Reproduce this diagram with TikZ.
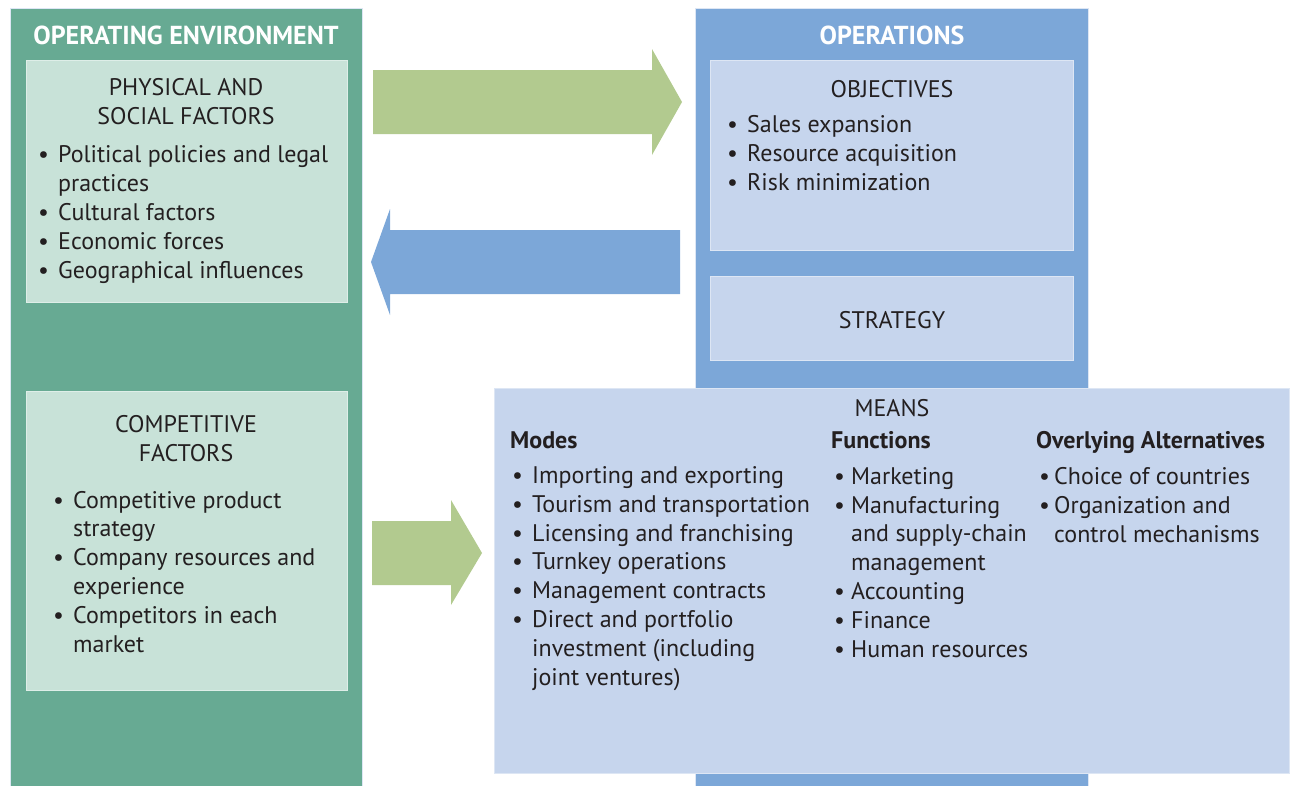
\documentclass[tikz,border=0pt]{standalone}
\usepackage{fontspec}
\setmainfont{PT Sans}
\definecolor{envgreen}{RGB}{103,170,147}
\definecolor{palegreen}{RGB}{200,226,216}
\definecolor{arrowgreen}{RGB}{178,202,143}
\definecolor{opsblue}{RGB}{124,167,216}
\definecolor{paleblue}{RGB}{198,213,237}
\definecolor{ink}{RGB}{35,31,32}
\newcommand{\bl}{\makebox[20pt][l]{\textbullet}}
\newcommand{\cn}{\hspace*{20pt}}
\begin{document}
\begin{tikzpicture}[x=1pt, y=-1pt,
    every node/.style={font=\fontsize{24}{28.8}\selectfont, text=ink, inner sep=0pt},
    column/.style={anchor=north west, draw=paleblue!60, line width=0.8pt},
    inbox/.style={anchor=north west, draw=white!40!#1, line width=0.8pt, fill=#1},
    title/.style={anchor=base, text=white, font=\fontsize{26}{28.8}\selectfont\bfseries},
    head/.style={anchor=base, align=center},
    list/.style={anchor=base west, align=left},
    sub/.style={anchor=base west, font=\fontsize{24}{28.8}\selectfont\bfseries}]
  \useasboundingbox (0,0) rectangle (1292,785);

  \node[column, fill=envgreen, minimum width=352, minimum height=790] (env) at (10,8) {};
  \node[column, fill=opsblue, minimum width=393, minimum height=790] (ops) at (695,8) {};

  \node[inbox=palegreen, minimum width=321, minimum height=242] (phys) at (26,60) {};
  \node[inbox=palegreen, minimum width=321, minimum height=299] (comp) at (26,391) {};
  \node[inbox=paleblue, minimum width=363, minimum height=190] (obj) at (710,60) {};
  \node[inbox=paleblue, minimum width=363, minimum height=84] (strat) at (710,276) {};
  \node[inbox=paleblue, minimum width=795, minimum height=385] (means) at (494,388) {};

  \node[title] (envtitle) at (186,44) {OPERATING ENVIRONMENT};
  \node[title] (opstitle) at (892,44) {OPERATIONS};

  % multi-line nodes sit on the baseline of their last line
  \node[head] (physhead) at (186,124) {PHYSICAL AND\\SOCIAL FACTORS};
  \node[list] (physlist) at (38,278) {\bl Political policies and legal\\ \cn practices\\ \bl Cultural factors\\ \bl Economic forces\\ \bl Geographical influences};

  \node[head] (comphead) at (186,461) {COMPETITIVE\\FACTORS};
  \node[list] (complist) at (53,652) {\bl Competitive product\\ \cn strategy\\ \bl Company resources and\\ \cn experience\\ \bl Competitors in each\\ \cn market};

  \node[head] (objhead) at (892,97) {OBJECTIVES};
  \node[list] (objlist) at (727,190) {\bl Sales expansion\\ \bl Resource acquisition\\ \bl Risk minimization};
  \node[head] (strathead) at (892,328) {STRATEGY};

  \node[head] (meanshead) at (892,416) {MEANS};
  \node[sub] (modes) at (510,448) {Modes};
  \node[sub] (functions) at (831,448) {Functions};
  \node[sub] (overlying) at (1036,448) {Overlying Alternatives};
  \node[list] (modelist) at (512,685) {\bl Importing and exporting\\ \bl Tourism and transportation\\ \bl Licensing and franchising\\ \bl Turnkey operations\\ \bl Management contracts\\ \bl Direct and portfolio\\ \cn investment (including\\ \cn joint ventures)};
  \node[list] (funclist) at (834,657) {\makebox[17pt][l]{\textbullet}Marketing\\ \makebox[17pt][l]{\textbullet}Manufacturing\\ \hspace*{17pt}and supply-chain\\ \hspace*{17pt}management\\ \makebox[17pt][l]{\textbullet}Accounting\\ \makebox[17pt][l]{\textbullet}Finance\\ \makebox[17pt][l]{\textbullet}Human resources};
  \node[list] (overlist) at (1039,542) {\makebox[15pt][l]{\textbullet}Choice of countries\\ \makebox[15pt][l]{\textbullet}Organization and\\ \hspace*{15pt}control mechanisms};

  \fill[arrowgreen] (373,70) -- (652,70) -- (652,49) -- (682,102) -- (652,155) -- (652,134) -- (373,134) -- cycle;
  \fill[opsblue] (680,230) -- (390,230) -- (390,209) -- (371,262) -- (390,315) -- (390,294) -- (680,294) -- cycle;
  \fill[arrowgreen] (372,521) -- (451,521) -- (451,500) -- (482,553) -- (451,605) -- (451,585) -- (372,585) -- cycle;
\end{tikzpicture}
\end{document}
